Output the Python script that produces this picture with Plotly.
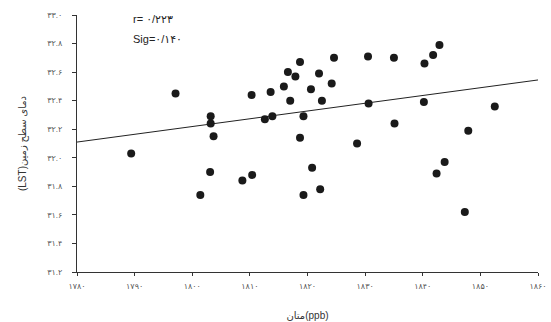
import plotly.graph_objects as go

# methane (ppb) and LST values
methane = [1789.4, 1797.1, 1803.2, 1803.2, 1803.7, 1803.1, 1801.4, 1808.7, 1810.4, 1810.3,
           1813.6, 1812.6, 1813.9, 1815.9, 1816.6, 1817.9, 1818.7, 1817.0, 1819.3, 1818.7,
           1819.3, 1824.6, 1830.5, 1835.0, 1842.9, 1841.8, 1840.3, 1822.0, 1824.2, 1820.6,
           1822.5, 1830.6, 1840.2, 1852.5, 1835.1, 1847.9, 1828.6, 1820.8, 1843.8, 1842.4,
           1822.2, 1847.3]
lst = [32.03, 32.45, 32.29, 32.24, 32.15, 31.90, 31.74, 31.84, 31.88, 32.44,
       32.46, 32.27, 32.29, 32.50, 32.60, 32.57, 32.67, 32.40, 32.29, 32.14,
       31.74, 32.70, 32.71, 32.70, 32.79, 32.72, 32.66, 32.59, 32.52, 32.48,
       32.40, 32.38, 32.39, 32.36, 32.24, 32.19, 32.10, 31.93, 31.97, 31.89,
       31.78, 31.62]

fit_x = [1780, 1860]
fit_y = [32.11, 32.545]

x_ticks = [1780, 1790, 1800, 1810, 1820, 1830, 1840, 1850, 1860]
x_labels = ["۱۷۸۰", "۱۷۹۰", "۱۸۰۰", "۱۸۱۰", "۱۸۲۰", "۱۸۳۰", "۱۸۴۰", "۱۸۵۰", "۱۸۶۰"]
y_ticks = [31.2, 31.4, 31.6, 31.8, 32.0, 32.2, 32.4, 32.6, 32.8, 33.0]
y_labels = ["۳۱.۲", "۳۱.۴", "۳۱.۶", "۳۱.۸", "۳۲.۰", "۳۲.۲", "۳۲.۴", "۳۲.۶", "۳۲.۸", "۳۳.۰"]

FONT = "Liberation Sans, DejaVu Sans, sans-serif"

fig = go.Figure()
fig.add_trace(go.Scatter(x=fit_x, y=fit_y, mode="lines",
                         line=dict(color="#222222", width=1), hoverinfo="skip"))
fig.add_trace(go.Scatter(x=methane, y=lst, mode="markers",
                         marker=dict(color="#1a1a1a", size=8, line=dict(width=0))))

fig.add_annotation(x=0.118, y=0.985, xref="paper", yref="paper", xanchor="left", yanchor="middle",
                   text="r= ۰/۲۲۳", showarrow=False, font=dict(family=FONT, size=11, color="#222"))
fig.add_annotation(x=0.118, y=0.905, xref="paper", yref="paper", xanchor="left", yanchor="middle",
                   text="Sig=۰/۱۴۰", showarrow=False, font=dict(family=FONT, size=11, color="#222"))

fig.update_layout(
    width=551, height=322,
    margin=dict(l=77, r=13, t=15, b=50),
    paper_bgcolor="white", plot_bgcolor="white",
    showlegend=False,
    font=dict(family=FONT, color="#555555", size=8),
    xaxis=dict(range=[1780, 1860], tickmode="array", tickvals=x_ticks, ticktext=x_labels,
               showgrid=False, zeroline=False, showline=True, linecolor="#333", linewidth=1,
               ticks="outside", ticklen=3, tickcolor="#333", tickfont=dict(size=8, color="#555"),
               ticklabelstandoff=3, automargin=False,
               title=dict(text="متان(ppb)", font=dict(size=10, color="#333"), standoff=22)),
    yaxis=dict(range=[31.2, 33.0], tickmode="array", tickvals=y_ticks, ticktext=y_labels,
               showgrid=False, zeroline=False, showline=True, linecolor="#333", linewidth=1,
               ticks="outside", ticklen=4, tickcolor="#333", tickfont=dict(size=8, color="#555"),
               ticklabelstandoff=8, automargin=False,
               title=dict(text="(LST)دمای سطح زمین", font=dict(size=10, color="#333"), standoff=18)),
)

fig.write_html("out.html")
